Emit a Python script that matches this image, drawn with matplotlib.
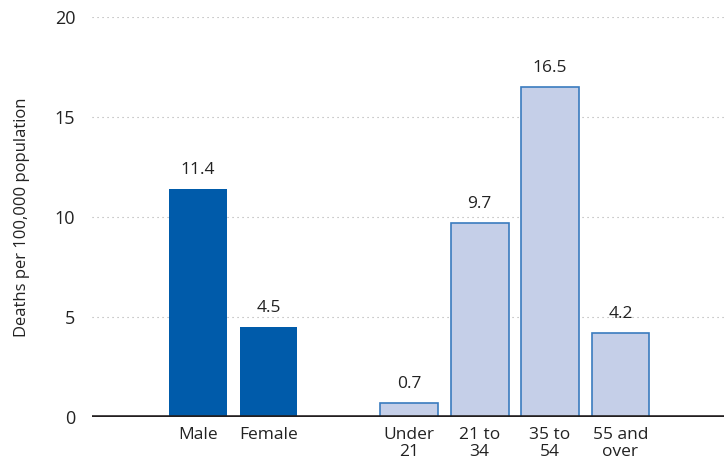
import matplotlib.pyplot as plt
import matplotlib.font_manager as fm

# data
sex_labels = ["Male", "Female"]
sex_values = [11.4, 4.5]
age_labels = ["Under\n21", "21 to\n34", "35 to\n54", "55 and\nover"]
age_values = [0.7, 9.7, 16.5, 4.2]
y_ticks = [0, 5, 10, 15, 20]

names = {f.name for f in fm.fontManager.ttflist}
fam = "Liberation Sans Narrow" if "Liberation Sans Narrow" in names else "Open Sans"
plt.rcParams['font.family'] = [fam, 'DejaVu Sans']

fig = plt.figure(figsize=(7.24, 4.67), dpi=100)
ax = fig.add_axes([92 / 724, 50 / 467, 632 / 724, 400 / 467])

sex_x = [0, 1]
age_x = [3, 4, 5, 6]
w = 0.82
ax.bar(sex_x, sex_values, width=w, color="#005BAA", zorder=3)
ax.bar(age_x, age_values, width=w, color="#C5CFE8", edgecolor="#3A7BBF", linewidth=1.2, zorder=3)

for x, v in zip(sex_x + age_x, sex_values + age_values):
    ax.text(x, v + 0.55, f"{v:.1f}", ha="center", va="bottom", fontsize=12.5, color="#222222")

ax.set_xlim(-1.506, 7.47)
ax.set_ylim(0, 20)
ax.set_yticks(y_ticks)
ax.set_yticklabels([str(t) for t in y_ticks], fontsize=13, color="#222222")
ax.set_xticks(sex_x + age_x)
ax.set_xticklabels(sex_labels + age_labels, fontsize=12.5, color="#222222", linespacing=1.1)
ax.tick_params(axis="both", length=0)
ax.tick_params(axis="y", pad=12)
ax.tick_params(axis="x", pad=7)

for t in y_ticks[1:]:
    ax.axhline(t, color="#AAAAAA", linestyle=(0, (1, 3.5)), linewidth=0.8, zorder=1)
ax.axhline(0, color="#231F20", linewidth=2.6, zorder=4)

for s in ax.spines.values():
    s.set_visible(False)

ax.set_ylabel("Deaths per 100,000 population", fontsize=12, color="#222222", labelpad=18)

fig.savefig("out.png", dpi=100)
